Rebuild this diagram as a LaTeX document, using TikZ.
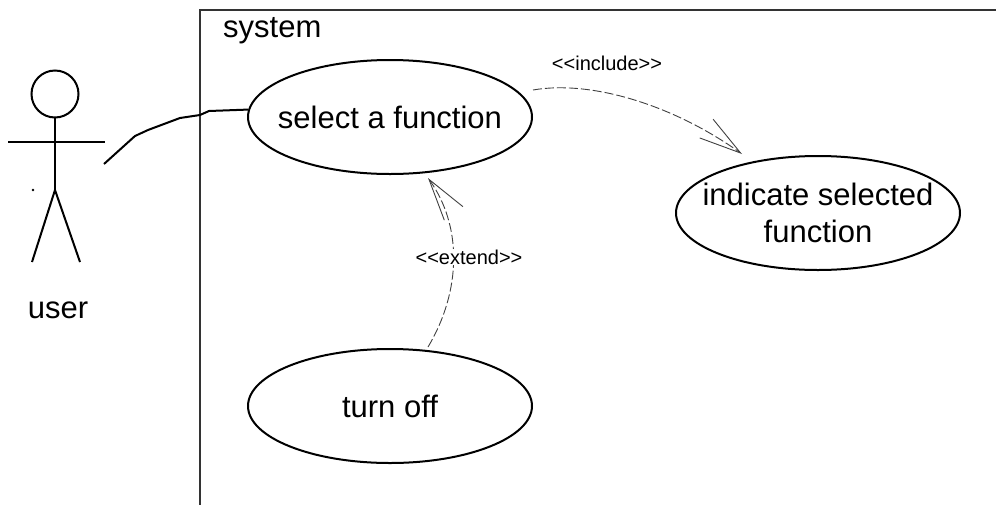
\documentclass[tikz,border=0pt]{standalone}
\usepackage{fontspec}
\setmainfont{Liberation Sans}
\usetikzlibrary{arrows.meta,shapes.geometric}
\newcommand{\zw}[1]{\makebox[0pt]{#1}}
\begin{document}
\begin{tikzpicture}[x=1pt,y=-1pt,
  usecase/.style={draw=black,line width=2pt,ellipse,inner sep=0pt,
    minimum width=284pt,minimum height=114pt,align=center,
    font=\fontsize{31}{37}\selectfont},
  limb/.style={draw=black,line width=2pt},
  dep/.style={draw=black!75,line width=0.9pt,dash pattern=on 9pt off 3pt,
    -{Straight Barb[length=42pt,width=23pt,line width=0.9pt]}},
  deplabel/.style={fill=white,inner sep=1pt,font=\fontsize{20}{24}\selectfont},
  bigtext/.style={inner sep=0pt,font=\fontsize{31}{37}\selectfont}]
\useasboundingbox (0,0) rectangle (996,504);
% system boundary
\draw[black!80,line width=1.2pt] (200,510) -- (200,10) -- (1000,10);
\node[bigtext,anchor=base west] (systitle) at (223,37) {system};
% actor
\draw[limb] (55,94) circle (23.5);
\coordinate (neck) at (55,117.5);
\coordinate (hip) at (55,190);
\coordinate (armL) at (8,142);
\coordinate (armR) at (105,142);
\coordinate (legL) at (32,262);
\coordinate (legR) at (80,262);
\draw[limb] (neck) -- (hip);
\draw[limb] (armL) -- (armR);
\draw[limb] (legL) -- (hip) -- (legR);
\fill (33,190) circle (1.3);
\node[bigtext,anchor=base] (user) at (58,318) {user};
% use cases
\node[usecase] (select) at (390,117) {\zw{select a function}};
\node[usecase] (indicate) at (818,213) {\zw{indicate selected}\\\zw{function}};
\node[usecase] (turnoff) at (390,406) {\zw{turn off}};
% association
\coordinate (actorhand) at (104,164);
\draw[limb,line join=round] (actorhand) -- (135,136) -- (148,130) -- (180,118) -- (200,115) -- (209,111) -- (select.177);
% include
\coordinate (incS) at (533,90);
\coordinate (incE) at (742,154);
\draw[dep] (incS) .. controls (590,80) and (672,104) .. (incE);
\node[deplabel] (inclab) at (607,63) {{<}{<}include{>}{>}};
% extend
\coordinate (extS) at (428,347);
\coordinate (extE) at (428,178);
\draw[dep] (extS) .. controls (462,290) and (462,225) .. (extE);
\node[deplabel] (extlab) at (469,257) {{<}{<}extend{>}{>}};
\end{tikzpicture}
\end{document}
